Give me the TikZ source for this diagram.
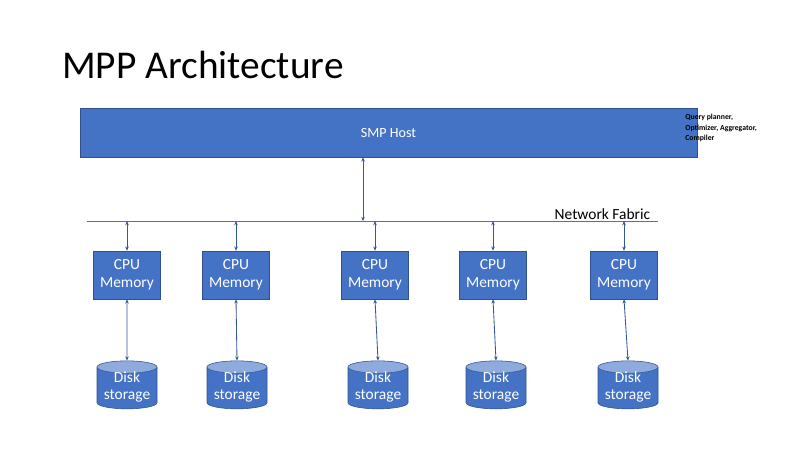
\documentclass[tikz,border=0pt]{standalone}
\usepackage{fontspec}
\setmainfont{Carlito}
\usetikzlibrary{shapes.geometric,arrows.meta}
\definecolor{boxblue}{HTML}{4472C4}
\definecolor{edgeblue}{HTML}{2F528F}
\definecolor{topblue}{HTML}{8FAADC}
\tikzset{
  unit/.style={rectangle, draw=edgeblue, fill=boxblue, text=white, minimum width=67*0.025cm, minimum height=48*0.025cm, align=center, inner sep=1pt, font=\fontsize{11}{12.5}\selectfont},
  disk/.style={cylinder, shape border rotate=90, aspect=0.25, draw=edgeblue, cylinder uses custom fill, cylinder body fill=boxblue, cylinder end fill=topblue, text=white, minimum width=60*0.025cm, minimum height=48*0.025cm, align=center, inner sep=1pt, font=\fontsize{11}{12.5}\selectfont},
  link/.style={<->, >={Stealth[length=3pt,width=2.5pt]}, edgeblue!80!boxblue, semithick}
}
\begin{document}
\begin{tikzpicture}[x=0.025cm, y=-0.025cm]
\useasboundingbox (0,0) rectangle (800,450);

\node [anchor=base west, font=\fontsize{28}{30}\selectfont, inner sep=0pt] (title) at (62,78) {MPP Architecture};

\node [rectangle, draw=edgeblue, fill=boxblue, text=white, minimum width=617*0.025cm, minimum height=49*0.025cm, font=\fontsize{10}{12}\selectfont] (host) at (388.5,132.5) {SMP Host};
\node [anchor=north west, align=left, font=\fontsize{5.5}{7.5}\selectfont\bfseries, inner sep=0pt] (note) at (685,114) {Query planner,\\Optimizer, Aggregator,\\Compiler};

\coordinate (fl) at (87,221);
\coordinate (fr) at (658,221);
\draw [boxblue, semithick] (fl) -- (fr);
\node [anchor=south west, font=\fontsize{11}{12}\selectfont, inner sep=1pt] (fabric) at (553,221) {Network Fabric};
\coordinate (hostbus) at (363,221);
\draw [link] (host.south -| hostbus) -- (hostbus);

\foreach \i/\cx/\dx in {1/127/127, 2/236/237, 3/375/378, 4/493/496, 5/624/628} {
  \node [unit] (cpu\i) at (\cx,275) {CPU\\Memory};
  \node [disk] (disk\i) at (\dx,389) {\\[-8pt]Disk\\storage};
  \coordinate (bus\i) at (\cx,221);
  \draw [link] (bus\i) -- (cpu\i.north);
  \draw [link] (cpu\i.south) -- (disk\i.north);
}

\end{tikzpicture}
\end{document}
